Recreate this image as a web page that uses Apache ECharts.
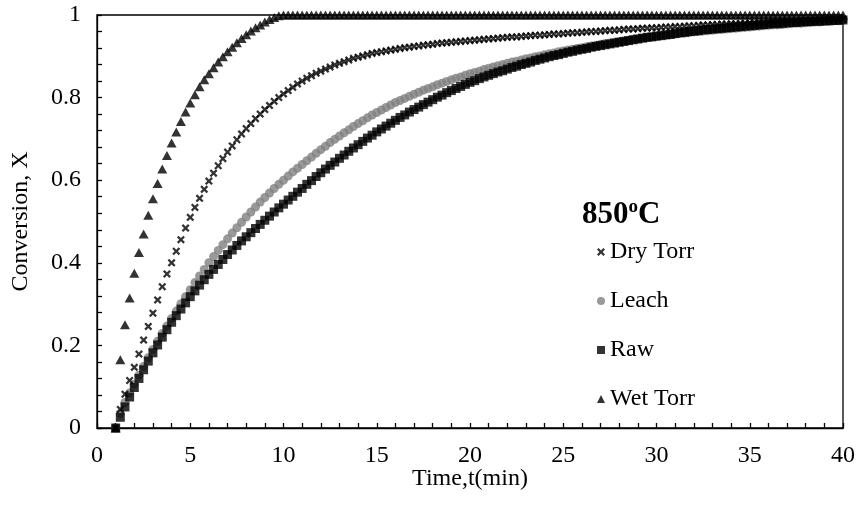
<!DOCTYPE html>
<html>
<head>
<meta charset="utf-8">
<script src="https://cdn.jsdelivr.net/npm/echarts@6/dist/echarts.min.js"></script>
<style>
  html, body { margin: 0; padding: 0; background: #fff; }
  #chart { width: 860px; height: 512px; }
</style>
</head>
<body>
<div id="chart"></div>
<script type="text/javascript">

// time, min (one reading every 15 s)
var times = [
  1, 1.25, 1.5, 1.75, 2, 2.25, 2.5, 2.75, 3, 3.25, 3.5, 3.75,
  4, 4.25, 4.5, 4.75, 5, 5.25, 5.5, 5.75, 6, 6.25, 6.5, 6.75,
  7, 7.25, 7.5, 7.75, 8, 8.25, 8.5, 8.75, 9, 9.25, 9.5, 9.75,
  10, 10.25, 10.5, 10.75, 11, 11.25, 11.5, 11.75, 12, 12.25, 12.5, 12.75,
  13, 13.25, 13.5, 13.75, 14, 14.25, 14.5, 14.75, 15, 15.25, 15.5, 15.75,
  16, 16.25, 16.5, 16.75, 17, 17.25, 17.5, 17.75, 18, 18.25, 18.5, 18.75,
  19, 19.25, 19.5, 19.75, 20, 20.25, 20.5, 20.75, 21, 21.25, 21.5, 21.75,
  22, 22.25, 22.5, 22.75, 23, 23.25, 23.5, 23.75, 24, 24.25, 24.5, 24.75,
  25, 25.25, 25.5, 25.75, 26, 26.25, 26.5, 26.75, 27, 27.25, 27.5, 27.75,
  28, 28.25, 28.5, 28.75, 29, 29.25, 29.5, 29.75, 30, 30.25, 30.5, 30.75,
  31, 31.25, 31.5, 31.75, 32, 32.25, 32.5, 32.75, 33, 33.25, 33.5, 33.75,
  34, 34.25, 34.5, 34.75, 35, 35.25, 35.5, 35.75, 36, 36.25, 36.5, 36.75,
  37, 37.25, 37.5, 37.75, 38, 38.25, 38.5, 38.75, 39, 39.25, 39.5, 39.75,
  40
];

var dryTorr = [
  0, 0.045, 0.082, 0.115, 0.147, 0.179, 0.213, 0.246, 0.278, 0.31, 0.342, 0.373,
  0.4, 0.428, 0.456, 0.484, 0.51, 0.534, 0.556, 0.578, 0.598, 0.617, 0.635, 0.652,
  0.668, 0.683, 0.698, 0.712, 0.725, 0.737, 0.749, 0.76, 0.771, 0.781, 0.791, 0.8,
  0.809, 0.817, 0.825, 0.833, 0.84, 0.847, 0.853, 0.859, 0.864, 0.869, 0.874, 0.879,
  0.883, 0.887, 0.891, 0.895, 0.898, 0.901, 0.904, 0.907, 0.909, 0.911, 0.913, 0.915,
  0.917, 0.919, 0.921, 0.922, 0.924, 0.925, 0.927, 0.928, 0.929, 0.931, 0.932, 0.933,
  0.934, 0.935, 0.936, 0.937, 0.938, 0.939, 0.94, 0.941, 0.942, 0.943, 0.944, 0.945,
  0.946, 0.947, 0.947, 0.948, 0.949, 0.95, 0.951, 0.951, 0.952, 0.953, 0.954, 0.954,
  0.955, 0.956, 0.957, 0.957, 0.958, 0.959, 0.96, 0.96, 0.961, 0.962, 0.963, 0.963,
  0.964, 0.965, 0.966, 0.966, 0.967, 0.968, 0.968, 0.969, 0.969, 0.97, 0.971, 0.971,
  0.972, 0.972, 0.973, 0.974, 0.974, 0.975, 0.976, 0.976, 0.977, 0.977, 0.978, 0.978,
  0.979, 0.979, 0.98, 0.98, 0.981, 0.981, 0.982, 0.982, 0.983, 0.983, 0.984, 0.984,
  0.985, 0.985, 0.986, 0.986, 0.987, 0.987, 0.987, 0.988, 0.988, 0.988, 0.989, 0.989,
  0.99
];

var leach = [
  0, 0.035, 0.062, 0.085, 0.106, 0.128, 0.149, 0.17, 0.19, 0.21, 0.229, 0.247,
  0.265, 0.283, 0.301, 0.318, 0.335, 0.352, 0.368, 0.384, 0.4, 0.415, 0.43, 0.444,
  0.458, 0.472, 0.485, 0.498, 0.511, 0.523, 0.535, 0.547, 0.558, 0.569, 0.58, 0.59,
  0.6, 0.61, 0.62, 0.629, 0.638, 0.647, 0.656, 0.665, 0.674, 0.682, 0.691, 0.699,
  0.707, 0.715, 0.722, 0.73, 0.737, 0.744, 0.751, 0.758, 0.764, 0.77, 0.776, 0.782,
  0.788, 0.793, 0.798, 0.803, 0.808, 0.813, 0.818, 0.822, 0.826, 0.831, 0.835, 0.839,
  0.843, 0.847, 0.85, 0.854, 0.858, 0.861, 0.864, 0.868, 0.871, 0.874, 0.877, 0.88,
  0.883, 0.886, 0.888, 0.891, 0.894, 0.896, 0.899, 0.901, 0.904, 0.906, 0.908, 0.911,
  0.913, 0.915, 0.917, 0.919, 0.921, 0.923, 0.925, 0.927, 0.929, 0.931, 0.932, 0.934,
  0.936, 0.937, 0.939, 0.941, 0.942, 0.944, 0.945, 0.947, 0.948, 0.95, 0.951, 0.952,
  0.954, 0.955, 0.956, 0.957, 0.959, 0.96, 0.961, 0.962, 0.963, 0.964, 0.965, 0.966,
  0.967, 0.968, 0.969, 0.97, 0.971, 0.972, 0.973, 0.974, 0.975, 0.976, 0.976, 0.977,
  0.978, 0.979, 0.98, 0.98, 0.981, 0.982, 0.983, 0.983, 0.984, 0.985, 0.986, 0.986,
  0.987
];

var raw = [
  0, 0.026, 0.051, 0.075, 0.098, 0.12, 0.141, 0.162, 0.182, 0.201, 0.22, 0.238,
  0.256, 0.272, 0.288, 0.303, 0.318, 0.332, 0.346, 0.359, 0.372, 0.384, 0.396, 0.408,
  0.42, 0.431, 0.442, 0.453, 0.463, 0.473, 0.483, 0.493, 0.503, 0.513, 0.523, 0.533,
  0.542, 0.552, 0.561, 0.571, 0.58, 0.59, 0.599, 0.609, 0.618, 0.627, 0.636, 0.644,
  0.653, 0.661, 0.67, 0.678, 0.686, 0.694, 0.702, 0.709, 0.717, 0.724, 0.731, 0.738,
  0.745, 0.752, 0.758, 0.765, 0.771, 0.777, 0.783, 0.789, 0.795, 0.801, 0.806, 0.812,
  0.817, 0.822, 0.827, 0.832, 0.837, 0.841, 0.846, 0.85, 0.854, 0.858, 0.862, 0.865,
  0.869, 0.873, 0.876, 0.88, 0.883, 0.886, 0.89, 0.893, 0.896, 0.899, 0.902, 0.904,
  0.907, 0.91, 0.912, 0.915, 0.917, 0.919, 0.922, 0.924, 0.926, 0.928, 0.93, 0.932,
  0.934, 0.936, 0.938, 0.94, 0.942, 0.944, 0.946, 0.947, 0.949, 0.95, 0.952, 0.953,
  0.955, 0.957, 0.958, 0.96, 0.961, 0.962, 0.964, 0.965, 0.966, 0.967, 0.968, 0.969,
  0.97, 0.971, 0.972, 0.973, 0.974, 0.975, 0.976, 0.977, 0.978, 0.979, 0.979, 0.98,
  0.981, 0.982, 0.982, 0.983, 0.984, 0.984, 0.985, 0.985, 0.986, 0.986, 0.987, 0.987,
  0.988
];

var wetTorr = [
  0, 0.165, 0.25, 0.315, 0.375, 0.425, 0.47, 0.515, 0.555, 0.592, 0.627, 0.66,
  0.69, 0.717, 0.742, 0.765, 0.787, 0.807, 0.826, 0.843, 0.858, 0.872, 0.886, 0.899,
  0.911, 0.922, 0.933, 0.943, 0.952, 0.961, 0.969, 0.976, 0.983, 0.989, 0.994, 0.998,
  1, 1, 1, 1, 1, 1, 1, 1, 1, 1, 1, 1,
  1, 1, 1, 1, 1, 1, 1, 1, 1, 1, 1, 1,
  1, 1, 1, 1, 1, 1, 1, 1, 1, 1, 1, 1,
  1, 1, 1, 1, 1, 1, 1, 1, 1, 1, 1, 1,
  1, 1, 1, 1, 1, 1, 1, 1, 1, 1, 1, 1,
  1, 1, 1, 1, 1, 1, 1, 1, 1, 1, 1, 1,
  1, 1, 1, 1, 1, 1, 1, 1, 1, 1, 1, 1,
  1, 1, 1, 1, 1, 1, 1, 1, 1, 1, 1, 1,
  1, 1, 1, 1, 1, 1, 1, 1, 1, 1, 1, 1,
  1, 1, 1, 1, 1, 1, 1, 1, 1, 1, 1, 1,
  1
];

var xTicks = { min: 0, max: 40, interval: 5 };
var yTicks = { min: 0, max: 1, interval: 0.2 };

var serif = 'Liberation Serif, Times New Roman, serif';
var crossMark = 'path://M0,2 L2,0 L5,3 L8,0 L10,2 L7,5 L10,8 L8,10 L5,7 L2,10 L0,8 L3,5 Z';

function pairs(values) {
    return times.map(function (t, i) { return [t, values[i]]; });
}

var chart = echarts.init(document.getElementById('chart'), null, { renderer: 'canvas' });

var option = {
    backgroundColor: '#fff',
    animation: false,
    textStyle: { fontFamily: serif },
    grid: {
        left: 97, right: 17, top: 15, bottom: 84,
        show: true, borderColor: '#000', borderWidth: 1.3
    },
    graphic: [{
        type: 'text',
        left: 582,
        top: 198,
        style: {
            text: '{a|850}{b|o}{a|C}',
            rich: {
                a: { fontFamily: serif, fontSize: 31, fontWeight: 'bold', fill: '#000', lineHeight: 34 },
                b: { fontFamily: serif, fontSize: 19, fontWeight: 'bold', fill: '#000', verticalAlign: 'top', lineHeight: 24 }
            }
        }
    }],
    legend: {
        orient: 'vertical',
        left: 597,
        top: 240,
        padding: 0,
        itemWidth: 8,
        itemHeight: 8,
        itemGap: 25,
        itemTextGap: 7,
        data: ['Dry Torr', 'Leach', 'Raw', 'Wet Torr'],
        textStyle: { fontFamily: serif, fontSize: 24, color: '#000' }
    },
    xAxis: {
        type: 'value',
        min: xTicks.min, max: xTicks.max, interval: xTicks.interval,
        name: 'Time,t(min)',
        nameLocation: 'middle',
        nameGap: 39,
        nameMoveOverlap: false,
        nameTextStyle: { fontFamily: serif, fontSize: 24, color: '#000' },
        axisLine: { show: true, lineStyle: { color: '#000', width: 1.3 } },
        axisTick: { show: true, inside: true, length: 5, lineStyle: { color: '#000', width: 1.3 } },
        minorTick: { show: true, splitNumber: 5, length: 5, lineStyle: { color: '#000', width: 1.3 } },
        axisLabel: { fontFamily: serif, fontSize: 24, color: '#000', margin: 16 },
        splitLine: { show: false }
    },
    yAxis: {
        type: 'value',
        min: yTicks.min, max: yTicks.max, interval: yTicks.interval,
        name: 'Conversion, X',
        nameLocation: 'middle',
        nameGap: 64,
        nameTextStyle: { fontFamily: serif, fontSize: 24, color: '#000' },
        axisLine: { show: true, lineStyle: { color: '#000', width: 1.3 } },
        axisTick: { show: true, inside: true, length: 5, lineStyle: { color: '#000', width: 1.3 } },
        minorTick: { show: true, splitNumber: 5, length: 5, lineStyle: { color: '#000', width: 1.3 } },
        axisLabel: { fontFamily: serif, fontSize: 24, color: '#000', margin: 16 },
        splitLine: { show: false }
    },
    series: [
        {
            name: 'Leach', type: 'scatter', clip: false,
            symbol: 'circle', symbolSize: 9,
            itemStyle: { color: '#808080' },
            data: pairs(leach)
        },
        {
            name: 'Raw', type: 'scatter', clip: false,
            symbol: 'rect', symbolSize: 9,
            itemStyle: { color: '#000' },
            data: pairs(raw)
        },
        {
            name: 'Dry Torr', type: 'scatter', clip: false,
            symbol: crossMark, symbolSize: 8,
            itemStyle: { color: '#000' },
            data: pairs(dryTorr)
        },
        {
            name: 'Wet Torr', type: 'scatter', clip: false,
            symbol: 'triangle', symbolSize: [10, 9],
            itemStyle: { color: '#000' },
            data: pairs(wetTorr)
        }
    ]
};

chart.setOption(option);

</script>
</body>
</html>
